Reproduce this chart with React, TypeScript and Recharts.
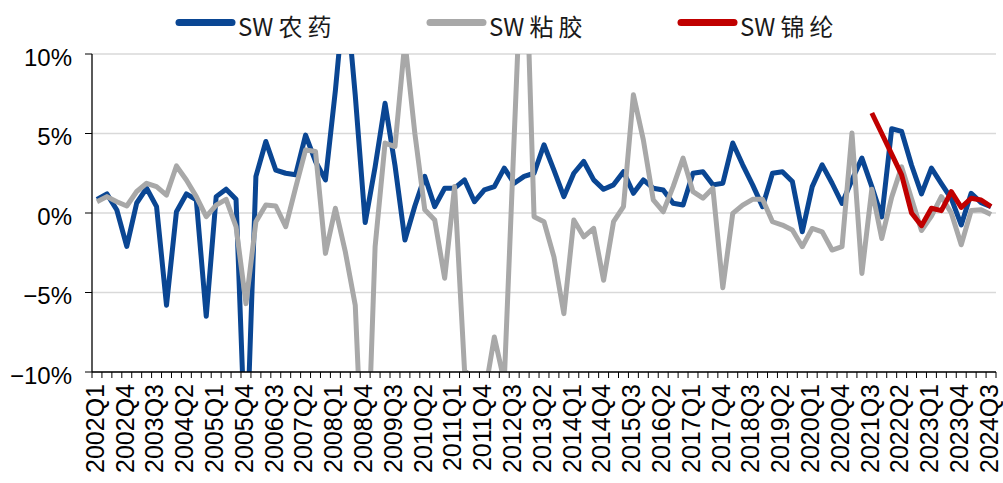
import { LineChart, Line, XAxis, YAxis, CartesianGrid } from "recharts";

// quarterly year-on-year change, %
const QUARTERS = [
  "2002Q1", "2002Q2", "2002Q3", "2002Q4",
  "2003Q1", "2003Q2", "2003Q3", "2003Q4",
  "2004Q1", "2004Q2", "2004Q3", "2004Q4",
  "2005Q1", "2005Q2", "2005Q3", "2005Q4",
  "2006Q1", "2006Q2", "2006Q3", "2006Q4",
  "2007Q1", "2007Q2", "2007Q3", "2007Q4",
  "2008Q1", "2008Q2", "2008Q3", "2008Q4",
  "2009Q1", "2009Q2", "2009Q3", "2009Q4",
  "2010Q1", "2010Q2", "2010Q3", "2010Q4",
  "2011Q1", "2011Q2", "2011Q3", "2011Q4",
  "2012Q1", "2012Q2", "2012Q3", "2012Q4",
  "2013Q1", "2013Q2", "2013Q3", "2013Q4",
  "2014Q1", "2014Q2", "2014Q3", "2014Q4",
  "2015Q1", "2015Q2", "2015Q3", "2015Q4",
  "2016Q1", "2016Q2", "2016Q3", "2016Q4",
  "2017Q1", "2017Q2", "2017Q3", "2017Q4",
  "2018Q1", "2018Q2", "2018Q3", "2018Q4",
  "2019Q1", "2019Q2", "2019Q3", "2019Q4",
  "2020Q1", "2020Q2", "2020Q3", "2020Q4",
  "2021Q1", "2021Q2", "2021Q3", "2021Q4",
  "2022Q1", "2022Q2", "2022Q3", "2022Q4",
  "2023Q1", "2023Q2", "2023Q3", "2023Q4",
  "2024Q1", "2024Q2", "2024Q3",
];

const NONGYAO = [
  0.86, 1.2, 0.19, -2.1, 0.63, 1.56, 0.4, -5.8, 0.08, 1.2,
  0.82, -6.5, 1.03, 1.5, 0.86, -16, 2.3, 4.5, 2.7, 2.5,
  2.4, 4.9, 3.24, 2.08, 7.7, 14.4, 7.4, -0.6, 2.9, 6.9,
  3.0, -1.7, 0.44, 2.3, 0.4, 1.56, 1.56, 2.08, 0.71, 1.45,
  1.66, 2.82, 1.87, 2.3, 2.5, 4.29, 2.7, 1.03, 2.5, 3.24,
  2.08, 1.49, 1.77, 2.6, 1.24, 2.08, 1.56, 1.45, 0.61, 0.5,
  2.5, 2.6, 1.77, 1.87, 4.4, 3.03, 1.77, 0.4, 2.5, 2.6,
  1.98, -1.18, 1.66, 3.03, 1.87, 0.6, 2.08, 3.45, 1.66, -0.25,
  5.3, 5.13, 3.0, 1.2, 2.82, 1.85, 0.9, -0.75, 1.24, 0.65,
  0.4,
];

const NIANJIAO = [
  0.71, 1.03, 0.71, 0.44, 1.35, 1.87, 1.66, 1.13, 2.96, 2.08,
  1.03, -0.23, 0.5, 0.86, -0.86, -5.7, -0.55, 0.5, 0.44, -0.86,
  1.6, 3.97, 3.87, -2.54, 0.3, -2.44, -5.8, -20, -2.1, 4.4,
  4.18, 10.8, 5.0, 0.2, -0.44, -4.1, 1.66, -9.9, -10.5, -11.5,
  -7.8, -10.6, 4.8, 20, -0.23, -0.55, -2.76, -6.33, -0.44, -1.5,
  -0.97, -4.23, -0.55, 0.4, 7.44, 4.6, 0.82, 0.08, 1.66, 3.45,
  1.34, 0.93, 1.56, -4.7, -0.02, 0.5, 0.86, 0.86, -0.55, -0.76,
  -1.07, -2.12, -0.97, -1.18, -2.33, -2.12, 5.03, -3.8, 1.5, -1.6,
  1.0, 2.9, 0.9, -1.1, -0.2, 1.03, 0.0, -2.0, 0.15, 0.2,
  -0.1,
];

// SW锦纶 starts in 2021Q3
const JINLUN_START = "2021Q3";
const JINLUN = [6.29, 5.0, 3.7, 2.4, 0.0, -0.8, 0.3, 0.15, 1.34, 0.35, 0.93, 0.82, 0.4];

const Y_TICKS = [-10, -5, 0, 5, 10];

const SERIES = [
  { key: "nongyao", name: "SW农药", color: "#0a4693" },
  { key: "nianjiao", name: "SW粘胶", color: "#a8a8a8" },
  { key: "jinlun", name: "SW锦纶", color: "#c00000" },
];

const jinlunOffset = QUARTERS.indexOf(JINLUN_START);
const rows = QUARTERS.map((q, i) => ({
  q,
  nongyao: NONGYAO[i],
  nianjiao: NIANJIAO[i],
  jinlun: i >= jinlunOffset ? JINLUN[i - jinlunOffset] : null,
}));

const W = 1003;
const H = 483;
const PLOT_LEFT = 92;
const PLOT_RIGHT = 996;
const BAND = (PLOT_RIGHT - PLOT_LEFT) / QUARTERS.length;
const FONT = "'Liberation Sans', Arial, sans-serif";
const CJK = "'Noto Sans CJK SC', sans-serif";

function QuarterTick(props: any) {
  const { x, y, payload, index } = props;
  const left = x - BAND / 2;
  const last = index === QUARTERS.length - 1;
  const lx = x - 2;
  const ly = y + 12;
  return (
    <g>
      <line x1={left} x2={left} y1={y} y2={y + 6} stroke="#000" strokeWidth={1} />
      {last && <line x1={x + BAND / 2} x2={x + BAND / 2} y1={y} y2={y + 6} stroke="#000" strokeWidth={1} />}
      {index % 3 === 0 && (
        <text
          x={lx}
          y={ly}
          transform={`rotate(-90, ${lx}, ${ly})`}
          textAnchor="end"
          dy="0.35em"
          fontSize={25}
          fontFamily={FONT}
          fill="#000"
        >
          {payload.value}
        </text>
      )}
    </g>
  );
}

function PctTick(props: any) {
  const { x, y, payload } = props;
  const v = payload.value;
  const label = v < 0 ? `\u2212${Math.abs(v)}%` : `${v}%`;
  return (
    <text x={x} y={y + 3} textAnchor="end" dominantBaseline="central" fontSize={24} fontFamily={FONT} fill="#000">
      {label}
    </text>
  );
}

function LegendRow() {
  return (
    <svg width={W} height={50} style={{ position: "absolute", left: 0, top: 0 }}>
      {SERIES.map((s, k) => {
        const x0 = 176 + 251 * k;
        const chars = s.name.slice(2).split("");
        return (
          <g key={s.key}>
            <line x1={x0 + 3} x2={x0 + 56} y1={22.5} y2={22.5} stroke={s.color} strokeWidth={7} strokeLinecap="round" />
            <text x={x0 + 62} y={25} dominantBaseline="central" fontSize={24} fontFamily={CJK} fill="#1a1a1a">
              {s.name.slice(0, 2)}
              {chars.map((c, j) => (
                <tspan key={j} dx={5}>
                  {c}
                </tspan>
              ))}
            </text>
          </g>
        );
      })}
    </svg>
  );
}

export default function App() {
  return (
    <div style={{ position: "absolute", left: 0, top: 0, width: W, height: H, background: "#fff" }}>
      <LineChart width={W} height={H} data={rows} margin={{ top: 54, right: W - PLOT_RIGHT, left: 12, bottom: 6 }}>
        <CartesianGrid vertical={false} stroke="#d9d9d9" strokeWidth={1.5} />
        <XAxis
          dataKey="q"
          interval={0}
          padding={{ left: BAND / 2, right: BAND / 2 }}
          height={105}
          tickSize={0}
          tickMargin={0}
          tickLine={false}
          axisLine={{ stroke: "#000", strokeWidth: 1.3 }}
          tick={<QuarterTick />}
        />
        <YAxis
          type="number"
          domain={[-10, 10]}
          ticks={Y_TICKS}
          allowDataOverflow
          width={80}
          tickSize={7}
          tickMargin={13}
          tickLine={{ stroke: "#000" }}
          axisLine={{ stroke: "#000", strokeWidth: 1.3 }}
          tick={<PctTick />}
        />
        {SERIES.map((s) => (
          <Line
            key={s.key}
            type="linear"
            dataKey={s.key}
            name={s.name}
            stroke={s.color}
            strokeWidth={5}
            strokeLinejoin="round"
            dot={false}
            activeDot={false}
            isAnimationActive={false}
          />
        ))}
      </LineChart>
      <LegendRow />
    </div>
  );
}
